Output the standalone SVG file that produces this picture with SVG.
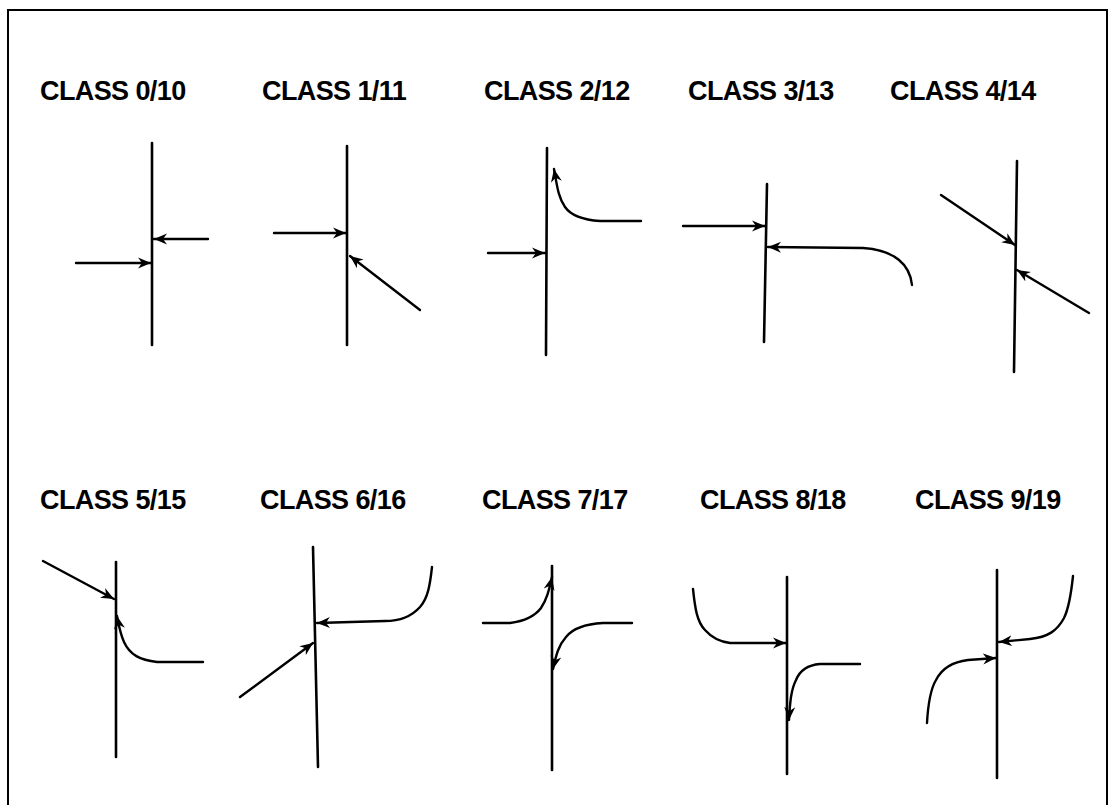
<svg xmlns="http://www.w3.org/2000/svg" width="1115" height="805" viewBox="0 0 1115 805">
<style>
.frame{fill:none;stroke:#000;stroke-width:2}
.axis{fill:none;stroke:#000;stroke-width:2.6;stroke-linecap:round}
.c{fill:none;stroke:#000;stroke-width:2.4;stroke-linecap:round;stroke-linejoin:round}
.lbl{font-family:"Liberation Sans",Arial,sans-serif;font-weight:bold;font-size:27px;fill:#000;letter-spacing:-0.6px}
</style>
<defs>
<marker id="ah" viewBox="0 0 14 12" refX="13" refY="6" markerWidth="14" markerHeight="12" markerUnits="userSpaceOnUse" orient="auto">
<path d="M0,0.5 L13,6 L0,11.5 L4,6 Z" fill="#000"/>
</marker>
</defs>
<rect width="1115" height="805" fill="#fff"/>
<path class="frame" d="M8,812 L8,10 L1107,10 L1107,812"/>

<g id="class0">
<text class="lbl" x="40" y="100">CLASS 0/10</text>
<line class="axis" x1="152" y1="143" x2="152" y2="345"/>
</g>
<g id="class1">
<text class="lbl" x="262" y="100">CLASS 1/11</text>
<line class="axis" x1="347" y1="146" x2="347" y2="345"/>
</g>
<g id="class2">
<text class="lbl" x="484" y="100">CLASS 2/12</text>
<line class="axis" x1="547" y1="148" x2="546" y2="355"/>
</g>
<g id="class3">
<text class="lbl" x="688" y="100">CLASS 3/13</text>
<line class="axis" x1="767" y1="184" x2="764" y2="342"/>
</g>
<g id="class4">
<text class="lbl" x="890" y="100">CLASS 4/14</text>
<line class="axis" x1="1017" y1="161" x2="1014" y2="372"/>
</g>
<g id="class5">
<text class="lbl" x="40" y="509">CLASS 5/15</text>
<line class="axis" x1="116" y1="562" x2="116" y2="757"/>
</g>
<g id="class6">
<text class="lbl" x="260" y="509">CLASS 6/16</text>
<line class="axis" x1="313" y1="547" x2="318" y2="767"/>
</g>
<g id="class7">
<text class="lbl" x="482" y="509">CLASS 7/17</text>
<line class="axis" x1="552" y1="566" x2="552" y2="770"/>
</g>
<g id="class8">
<text class="lbl" x="700" y="509">CLASS 8/18</text>
<line class="axis" x1="787" y1="577" x2="787" y2="774"/>
</g>
<g id="class9">
<text class="lbl" x="915" y="509">CLASS 9/19</text>
<line class="axis" x1="997" y1="570" x2="997" y2="778"/>
</g>

<g id="connectors">
<path class="c" d="M208,239 L154,239" marker-end="url(#ah)"/>
<path class="c" d="M76,263 L151,263" marker-end="url(#ah)"/>
<path class="c" d="M274,233 L346,233" marker-end="url(#ah)"/>
<path class="c" d="M420,310 L350,256" marker-end="url(#ah)"/>
<path class="c" d="M488,253 L545,253" marker-end="url(#ah)"/>
<path class="c" d="M641,221 L600,221 C585,220 572,217 565,207 C558,197 557,185 554,169" marker-end="url(#ah)"/>
<path class="c" d="M683,226 L765,226" marker-end="url(#ah)"/>
<path class="c" d="M912,285 C910,265 895,250 863,248 L768,247" marker-end="url(#ah)"/>
<path class="c" d="M941,195 L1015,245" marker-end="url(#ah)"/>
<path class="c" d="M1089,313 L1017,270" marker-end="url(#ah)"/>
<path class="c" d="M43,561 L114,599" marker-end="url(#ah)"/>
<path class="c" d="M203,662 L157,662 C140,660 130,655 124,642 C120,633 119,626 117,616" marker-end="url(#ah)"/>
<path class="c" d="M432,567 C430,585 428,598 420,607 C412,616 402,621 385,621 L317,623" marker-end="url(#ah)"/>
<path class="c" d="M240,697 L313,643" marker-end="url(#ah)"/>
<path class="c" d="M483,623 L510,623 C525,621 535,616 541,608 C547,599 549,590 552,577" marker-end="url(#ah)"/>
<path class="c" d="M632,623 L603,623 C585,624 573,628 566,637 C558,646 556,656 553,669" marker-end="url(#ah)"/>
<path class="c" d="M693,589 C695,608 697,622 705,630 C712,638 722,642 730,643 L786,643" marker-end="url(#ah)"/>
<path class="c" d="M860,664 L820,664 C808,665 800,670 796,680 C791,690 790,702 789,720" marker-end="url(#ah)"/>
<path class="c" d="M1073,576 C1071,595 1069,608 1064,618 C1057,631 1048,637 1030,639 L999,642" marker-end="url(#ah)"/>
<path class="c" d="M927,723 C928,705 930,690 936,680 C942,668 952,662 968,660 L996,658" marker-end="url(#ah)"/>
</g>
</svg>
